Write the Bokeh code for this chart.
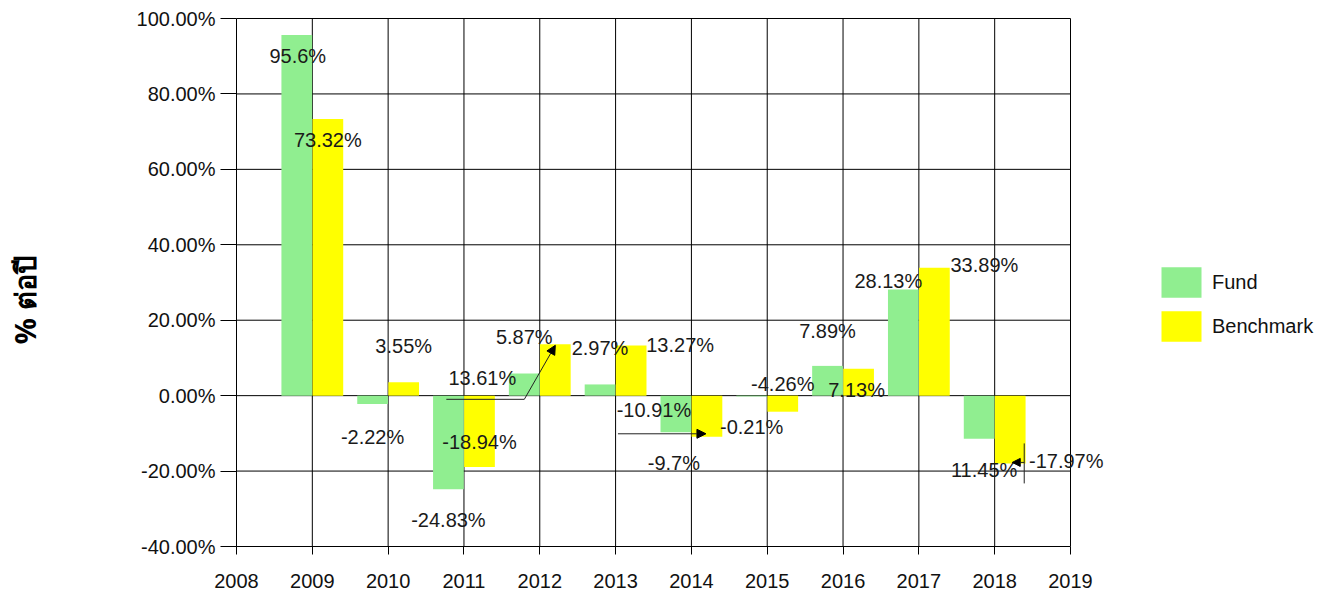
from bokeh.plotting import figure
from bokeh.models import (ColumnDataSource, Legend, LegendItem, Arrow, NormalHead,
                          FixedTicker, PrintfTickFormatter)
from bokeh.core.properties import value
from bokeh.embed import file_html
from bokeh.resources import INLINE

# ---- data ----
years = [2009, 2010, 2011, 2012, 2013, 2014, 2015, 2016, 2017, 2018]
fund = [95.6, -2.22, -24.83, 5.87, 2.97, -9.7, -0.21, 7.89, 28.13, -11.45]
benchmark = [73.32, 3.55, -18.94, 13.61, 13.27, -10.91, -4.26, 7.13, 33.89, -17.97]
fund_labels = ["95.6%", "-2.22%", "-24.83%", "5.87%", "2.97%", "-9.7%", "-0.21%", "7.89%", "28.13%", "11.45%"]
bench_labels = ["73.32%", "3.55%", "-18.94%", "13.61%", "13.27%", "-10.91%", "-4.26%", "7.13%", "33.89%", "-17.97%"]
x_ticks = list(range(2008, 2020))
y_ticks = [-40, -20, 0, 20, 40, 60, 80, 100]

# ---- layout constants ----
LEFT, TOP, BOTTOM = 236, 16, 42
TOTAL_W = 1328
PLOT_W, PLOT_H = 834, 528          # pixel size of the 2008-2019 / -40..100 box
X0, X1 = 2008, 2019
Y0, Y1 = -40, 100
PXX = (X1 - X0) / PLOT_W            # years per pixel
PXY = (Y1 - Y0) / PLOT_H            # percent per pixel
FW = TOTAL_W - LEFT
FH = PLOT_H + 2
XR1 = X0 + FW * PXX
YR1 = Y1 + 2 * PXY
BW = 0.405
SHIFT = 0.205

# label pixel offsets (dx right, dy down) from bar end
fund_off = [(1, 21), (0, 33), (0, 31), (0, -37), (0, -36), (-2, 31), (0, 31), (0, -35), (-15, -9), (5, 31)]
bench_off = [(0, 21), (0, -36), (0, -25), (-73, 34), (49, -1), (-53, -27), (0, -28), (-2, 21), (50, -3), (56, -2)]

fund_x = [y - SHIFT for y in years]
bench_x = [y + SHIFT for y in years]

def lab_pos(xs, vals, offs):
    lx = [x + dx * PXX for x, (dx, dy) in zip(xs, offs)]
    ly = [v - dy * PXY for v, (dx, dy) in zip(vals, offs)]
    return lx, ly

flx, fly = lab_pos(fund_x, fund, fund_off)
blx, bly = lab_pos(bench_x, benchmark, bench_off)

src_f = ColumnDataSource(dict(x=fund_x, top=fund, lx=flx, ly=fly, t=fund_labels))
src_b = ColumnDataSource(dict(x=bench_x, top=benchmark, lx=blx, ly=bly, t=bench_labels))

p = figure(frame_width=FW, frame_height=FH, x_range=(X0, XR1), y_range=(Y0, YR1),
           output_backend="svg", toolbar_location=None,
           min_border_left=LEFT, min_border_top=TOP, min_border_bottom=BOTTOM, min_border_right=0)
p.background_fill_color = "white"
p.border_fill_color = "white"
p.outline_line_color = None
p.xgrid.visible = False
p.ygrid.visible = False

# grid lines drawn from the tick lists
p.segment(x0=x_ticks, x1=x_ticks, y0=[Y0] * len(x_ticks), y1=[Y1] * len(x_ticks),
          line_color="black", line_width=1)
p.segment(x0=[X0] * len(y_ticks), x1=[X1] * len(y_ticks), y0=y_ticks, y1=y_ticks,
          line_color="black", line_width=1)

# axes
p.xaxis.ticker = FixedTicker(ticks=x_ticks)
p.yaxis.ticker = FixedTicker(ticks=y_ticks)
p.xaxis.bounds = (X0, X1)
p.yaxis.bounds = (Y0, Y1)
p.yaxis.formatter = PrintfTickFormatter(format="%.2f%%")
for ax in (p.xaxis[0], p.yaxis[0]):
    ax.axis_line_color = "black"
    ax.major_tick_line_color = "black"
    ax.minor_tick_line_color = None
    ax.major_tick_in = 0
    ax.major_label_text_font = "Liberation Sans"
    ax.major_label_text_font_size = "20px"
    ax.major_label_text_color = "#111111"
p.yaxis.major_tick_out = 16
p.yaxis.major_label_standoff = 5
p.xaxis.major_tick_out = 8
p.xaxis.major_label_standoff = 19

# trailing no-break spaces push the visible title down to where the reference has it
p.yaxis.axis_label = "% ต่อปี" + "\u00a0" * 5
p.yaxis.axis_label_text_font = "Noto Sans"
p.yaxis.axis_label_text_font_style = "bold"
p.yaxis.axis_label_text_font_size = "29px"
p.yaxis.axis_label_text_color = "black"
p.yaxis.axis_label_standoff = 90

# bars
rf = p.vbar(x="x", top="top", bottom=0, width=BW, source=src_f,
            fill_color="#90EE90", line_color=None)
rb = p.vbar(x="x", top="top", bottom=0, width=BW, source=src_b,
            fill_color="#FFFF00", line_color=None)

# leader lines
i12 = years.index(2012)
cx, cv = bench_x[i12], benchmark[i12]
p.line([cx - 109 * PXX, cx - 31 * PXX], [cv - 55 * PXY, cv - 55 * PXY], line_color="#222222", line_width=1)
p.add_layout(Arrow(end=NormalHead(size=9, fill_color="black", line_color="black"),
                   x_start=cx - 31 * PXX, y_start=cv - 55 * PXY, x_end=cx, y_end=cv - 1 * PXY,
                   line_color="#222222", line_width=1))

i14 = years.index(2014)
cx, cv = bench_x[i14], benchmark[i14]
p.add_layout(Arrow(end=NormalHead(size=9, fill_color="black", line_color="black"),
                   x_start=cx - 89 * PXX, y_start=cv + 3 * PXY, x_end=cx - 1 * PXX, y_end=cv + 3 * PXY,
                   line_color="#222222", line_width=1))

i18 = years.index(2018)
cx, cv = bench_x[i18], benchmark[i18]
p.line([cx + 14 * PXX, cx + 14 * PXX], [cv + 20 * PXY, cv - 20 * PXY], line_color="#222222", line_width=1)
p.add_layout(Arrow(end=NormalHead(size=8, fill_color="black", line_color="black"),
                   x_start=cx + 14 * PXX, y_start=cv + 1 * PXY, x_end=cx + 2 * PXX, y_end=cv + 1 * PXY,
                   line_color="#222222", line_width=1))

# data labels
for src in (src_f, src_b):
    p.text(x="lx", y="ly", text="t", source=src, text_font=value("Liberation Sans"),
           text_font_size="20px", text_align="center", text_baseline="middle",
           text_color="#1a1a1a")

# legend (bokeh insets the box glyph by 10% of the glyph area)
legend = Legend(items=[LegendItem(label="Fund", renderers=[rf]),
                       LegendItem(label="Benchmark", renderers=[rb])],
                location=(920, 201), glyph_width=50, glyph_height=38, spacing=6,
                label_standoff=6, padding=0, margin=0,
                border_line_alpha=0, background_fill_alpha=0,
                label_text_font="Liberation Sans", label_text_font_size="20px",
                label_text_color="#111111")
p.add_layout(legend, "center")

open("out.html", "w").write(file_html(p, INLINE))
